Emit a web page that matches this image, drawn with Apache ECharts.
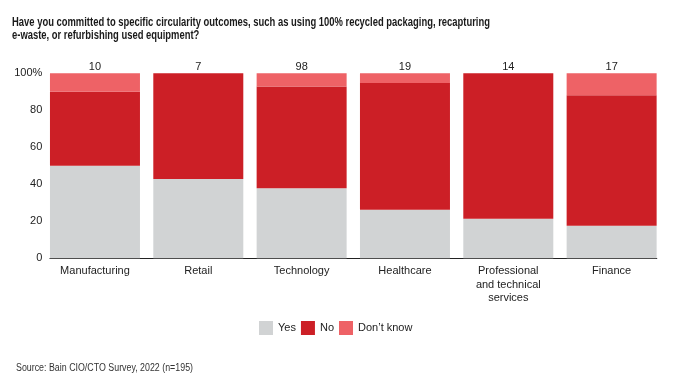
<!DOCTYPE html>
<html>
<head>
<meta charset="utf-8">
<script src="https://cdn.jsdelivr.net/npm/echarts@6/dist/echarts.min.js"></script>
<style>
html,body{margin:0;padding:0;background:#fff;}
#chart{width:679px;height:391px;}
</style>
</head>
<body>
<div id="chart"></div>
<script>
const categories = ['Manufacturing', 'Retail', 'Technology', 'Healthcare', 'Professional\nand technical\nservices', 'Finance'];
const respondents = ['10', '7', '98', '19', '14', '17'];
const yesValues = [50, 42.9, 37.8, 26.3, 21.4, 17.6];
const noValues = [40, 57.1, 55.1, 68.4, 78.6, 70.6];
const dontKnowValues = [10, 0, 7.1, 5.3, 0, 11.8];
const yTicks = [0, 20, 40, 60, 80, 100];
const titleText = 'Have you committed to specific circularity outcomes, such as using 100% recycled packaging, recapturing\ne-waste, or refurbishing used equipment?';
const sourceText = 'Source: Bain CIO/CTO Survey, 2022 (n=195)';

const FONT = '"Liberation Sans", Arial, sans-serif';
const chart = echarts.init(document.getElementById('chart'));

const gridTop = 73.3, gridBottom = 391 - 258.3;

chart.setOption({
  animation: false,
  textStyle: { fontFamily: FONT },
  graphic: [
    {
      type: 'text', x: 12, y: 16.5, scaleX: 0.785, scaleY: 1,
      style: {
        text: titleText,
        font: 'bold 12px "Liberation Sans", Arial, sans-serif',
        fill: '#1a1a1a', lineHeight: 12.5,
        align: 'left', verticalAlign: 'top'
      }
    },
    {
      type: 'text', x: 16, y: 363.5, scaleX: 0.885, scaleY: 1,
      style: {
        text: sourceText,
        font: '10px "Liberation Sans", Arial, sans-serif',
        fill: '#333',
        align: 'left', verticalAlign: 'top'
      }
    }
  ],
  legend: {
    data: ['Yes', 'No', "Don\u2019t know"],
    left: 259, top: 321, padding: 0,
    icon: 'rect', itemWidth: 14, itemHeight: 14, itemGap: 5,
    textStyle: { fontFamily: FONT, fontSize: 11, color: '#222' }
  },
  grid: [
    { left: 43.3, right: 15.7, top: gridTop, bottom: gridBottom },
    { left: 50, right: 22.3, top: gridTop, bottom: gridBottom }
  ],
  xAxis: [
    {
      type: 'category', gridIndex: 0, data: categories, position: 'bottom',
      axisLine: { show: false }, axisTick: { show: false },
      axisLabel: { margin: 6, fontSize: 11, color: '#222', lineHeight: 13.5, fontFamily: FONT, interval: 0 }
    },
    {
      type: 'category', gridIndex: 0, data: respondents, position: 'top',
      axisLine: { show: false }, axisTick: { show: false },
      axisLabel: { margin: 1, fontSize: 11, color: '#222', fontFamily: FONT, interval: 0 }
    },
    {
      type: 'category', gridIndex: 1, data: categories, position: 'bottom',
      axisLine: { show: true, onZero: false, lineStyle: { color: '#222', width: 1.2 } },
      axisTick: { show: false }, axisLabel: { show: false }
    }
  ],
  yAxis: [
    {
      type: 'value', gridIndex: 0, min: 0, max: 100, interval: 20,
      splitLine: { show: false }, axisLine: { show: false }, axisTick: { show: false },
      axisLabel: {
        margin: 1, fontSize: 11, color: '#222', fontFamily: FONT,
        formatter: v => yTicks.includes(v) ? (v === 100 ? '100%' : String(v)) : ''
      }
    },
    {
      type: 'value', gridIndex: 1, min: 0, max: 100, show: false
    }
  ],
  series: [
    {
      name: 'Yes', type: 'bar', stack: 'total', xAxisIndex: 0, yAxisIndex: 0,
      barWidth: 90, data: yesValues, itemStyle: { color: '#d1d3d4' }
    },
    {
      name: 'No', type: 'bar', stack: 'total', xAxisIndex: 0, yAxisIndex: 0,
      barWidth: 90, data: noValues, itemStyle: { color: '#cc1f26' }
    },
    {
      name: "Don\u2019t know", type: 'bar', stack: 'total', xAxisIndex: 0, yAxisIndex: 0,
      barWidth: 90, data: dontKnowValues, itemStyle: { color: '#ee6266' }
    }
  ]
});
</script>
</body>
</html>
